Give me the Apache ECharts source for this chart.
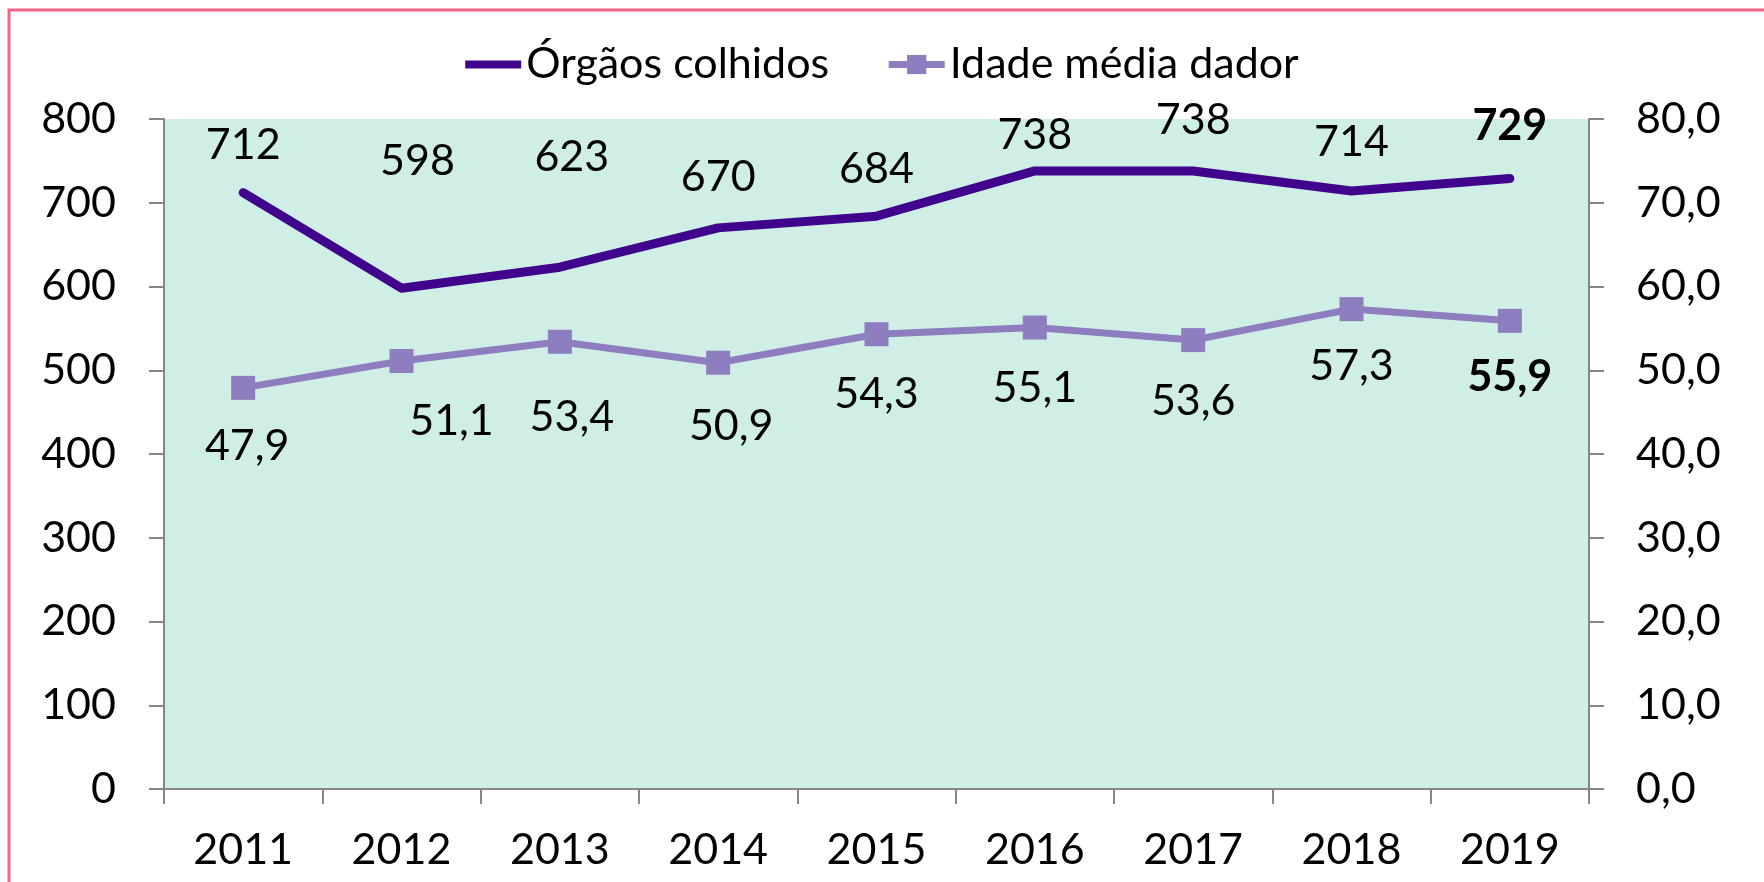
<!DOCTYPE html>
<html><head><meta charset="utf-8">
<script src="https://cdn.jsdelivr.net/npm/echarts@6/dist/echarts.min.js"></script>
<style>html,body{margin:0;padding:0;background:#fff}#c{width:1764px;height:882px}</style>
</head><body><div id="c"></div>
<script>
var years = ['2011','2012','2013','2014','2015','2016','2017','2018','2019'];
var orgaos = [712,598,623,670,684,738,738,714,729];
var idade = [47.9,51.1,53.4,50.9,54.3,55.1,53.6,57.3,55.9];
var leftTicks = [0,100,200,300,400,500,600,700,800];

var off1 = [[0,-48],[16,-127],[12,-110],[0,-51],[0,-47],[0,-36],[0,-51],[0,-49],[0,-52]];
var off2 = [[4,58],[50,60],[12,75],[13,63],[0,60],[0,61],[0,61],[0,57],[0,56]];
var FONT = 'Lato';
var FS = 43;
var fmt = function(v){ return v.toFixed(1).replace('.', ','); };

var d1 = orgaos.map(function(v,i){
  return {value:v, label:{offset:off1[i], fontWeight: i===8?'bold':'normal'}};
});
var d2 = idade.map(function(v,i){
  return {value:v, label:{offset:off2[i], fontWeight: i===8?'bold':'normal'}};
});

var chart = echarts.init(document.getElementById('c'));
chart.setOption({
  animation:false,
  textStyle:{fontFamily:FONT},
  graphic:[{type:'rect', shape:{x:9,y:10,width:1820,height:920}, style:{fill:'none', stroke:'#f5648a', lineWidth:3}, z:-10}],
  legend:{
    top:38, left:'center', itemGap:56, itemWidth:56, itemHeight:24,
    textStyle:{fontFamily:FONT, fontSize:FS, color:'#000'},
    lineStyle:{width:8},
    data:[
      {name:'Órgãos colhidos', icon:'path://M0,0 L56,0 L56,8 L0,8 Z', itemStyle:{color:'#40058c'}},
      {name:'Idade média dador', lineStyle:{width:7, color:'#8e7dbf'}}
    ]
  },
  grid:{left:164, right:175, top:119, bottom:93, show:true, backgroundColor:'#cfefe6', borderWidth:0},
  xAxis:{
    type:'category', data:years, boundaryGap:true,
    axisLine:{lineStyle:{color:'#868686', width:2}},
    axisTick:{show:true, length:15, alignWithLabel:false, lineStyle:{color:'#868686', width:2}},
    axisLabel:{fontFamily:FONT, fontSize:FS, color:'#000', margin:40}
  },
  yAxis:[{
    type:'value', min:0, max:800, interval:100,
    axisLine:{show:true, lineStyle:{color:'#868686', width:2}},
    axisTick:{show:true, length:15, lineStyle:{color:'#868686', width:2}},
    splitLine:{show:false},
    axisLabel:{fontFamily:FONT, fontSize:FS, color:'#000', margin:48}
  },{
    type:'value', min:0, max:80, interval:10, position:'right',
    axisLine:{show:true, lineStyle:{color:'#868686', width:2}},
    axisTick:{show:true, length:15, lineStyle:{color:'#868686', width:2}},
    splitLine:{show:false},
    axisLabel:{fontFamily:FONT, fontSize:FS, color:'#000', margin:47, formatter:fmt}
  }],
  series:[{
    name:'Órgãos colhidos', type:'line', yAxisIndex:0, data:d1,
    symbol:'circle', symbolSize:1, showSymbol:true,
    lineStyle:{color:'#40058c', width:9, cap:'round', join:'round'},
    itemStyle:{color:'#40058c'},
    label:{show:true, position:'inside', fontFamily:FONT, fontSize:FS, color:'#000'},
    z:3
  },{
    name:'Idade média dador', type:'line', yAxisIndex:1, data:d2,
    symbol:'rect', symbolSize:24,
    lineStyle:{color:'#8e7dbf', width:7},
    itemStyle:{color:'#8e7dbf'},
    label:{show:true, position:'inside', fontFamily:FONT, fontSize:FS, color:'#000', formatter:function(p){return fmt(p.value);}},
    z:2
  }]
});
</script></body></html>
